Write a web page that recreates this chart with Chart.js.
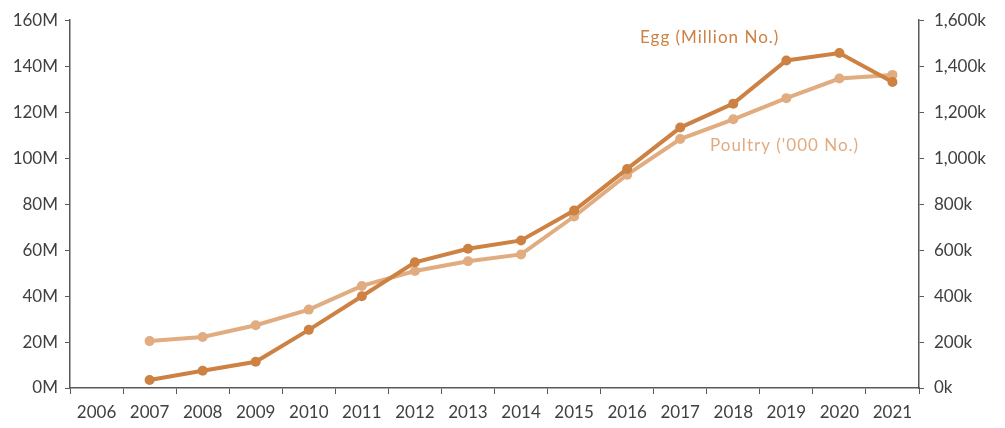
<!DOCTYPE html>
<html>
<head>
<meta charset="utf-8">
<script src="https://cdn.jsdelivr.net/npm/chart.js@4.4.1/dist/chart.umd.min.js"></script>
<style>
  html, body { margin: 0; padding: 0; background: #fff; }
  #wrap { width: 1005px; height: 428px; }
</style>
</head>
<body>
<div id="wrap"><canvas id="eggChart" width="1005" height="428"></canvas></div>
<script>
// years on the x axis (2006 has no data)
const years = ["2006", "2007", "2008", "2009", "2010", "2011", "2012", "2013",
               "2014", "2015", "2016", "2017", "2018", "2019", "2020", "2021"];
// egg production, million (left axis)
const eggMillion = [null, 3.5, 7.5, 11.4, 25.3, 39.9, 54.7, 60.6,
                    64.2, 77.2, 95.3, 113.3, 123.7, 142.5, 145.7, 133.1];
// poultry, thousand (right axis)
const poultryThousand = [null, 204, 222, 273, 341, 444, 509, 551,
                         581, 746, 928, 1083, 1169, 1261, 1346, 1362];

const eggColor = "#CD8142";
const poultryColor = "#E0AC80";
const textColor = "#404040";
const axisColor = "#595959";
const font = { family: "Lato", size: 17 };

// series labels drawn next to the lines
const seriesLabels = {
    id: "seriesLabels",
    afterDatasetsDraw(chart) {
        const c = chart.ctx;
        c.save();
        c.font = "17px Lato";
        c.letterSpacing = "1px";
        c.textBaseline = "middle";
        c.textAlign = "left";
        c.fillStyle = eggColor;
        c.fillText("Egg (Million No.)", 640, 38);
        c.fillStyle = poultryColor;
        c.fillText("Poultry ('000 No.)", 710, 146);
        c.restore();
    }
};

document.addEventListener("DOMContentLoaded", function () {
    const ctx = document.getElementById("eggChart").getContext("2d");

    new Chart(ctx, {
        type: "line",
        data: {
            labels: years,
            datasets: [
                {
                    label: "Egg (Million No.)",
                    data: eggMillion,
                    yAxisID: "y",
                    borderColor: eggColor,
                    backgroundColor: eggColor,
                    borderWidth: 4,
                    pointRadius: 5,
                    pointHoverRadius: 5,
                    pointBorderWidth: 0,
                },
                {
                    label: "Poultry ('000 No.)",
                    data: poultryThousand,
                    yAxisID: "y2",
                    borderColor: poultryColor,
                    backgroundColor: poultryColor,
                    borderWidth: 4,
                    pointRadius: 5,
                    pointHoverRadius: 5,
                    pointBorderWidth: 0,
                },
            ],
        },
        options: {
            responsive: false,
            animation: false,
            layout: { padding: { top: 19, left: 0, right: 0, bottom: 0 } },
            plugins: {
                legend: { display: false },
                tooltip: { enabled: false },
            },
            scales: {
                x: {
                    offset: true,
                    grid: { offset: true, drawOnChartArea: false, drawTicks: true, tickLength: 6, tickColor: axisColor },
                    border: { display: true, color: axisColor, width: 1.5 },
                    ticks: { color: textColor, font: font, padding: 8, maxRotation: 0, autoSkip: false },
                    afterFit(scale) { scale.height = 40; },
                },
                y: {
                    position: "left",
                    min: 0,
                    max: 160,
                    ticks: {
                        stepSize: 20,
                        color: textColor,
                        font: font,
                        padding: 7,
                        callback: (v) => v + "M",
                    },
                    grid: { drawOnChartArea: false, drawTicks: true, tickLength: 5, tickColor: axisColor },
                    border: { display: true, color: axisColor, width: 1.5 },
                    afterFit(scale) { scale.width = 70; },
                },
                y2: {
                    position: "right",
                    min: 0,
                    max: 1600,
                    ticks: {
                        stepSize: 200,
                        color: textColor,
                        font: font,
                        padding: 10,
                        callback: (v) => v.toLocaleString("en-US") + "k",
                    },
                    grid: { drawOnChartArea: false, drawTicks: true, tickLength: 5, tickColor: axisColor },
                    border: { display: true, color: axisColor, width: 1.5 },
                    afterFit(scale) { scale.width = 86; },
                },
            },
        },
        plugins: [seriesLabels],
    });
});
</script>
</body>
</html>
